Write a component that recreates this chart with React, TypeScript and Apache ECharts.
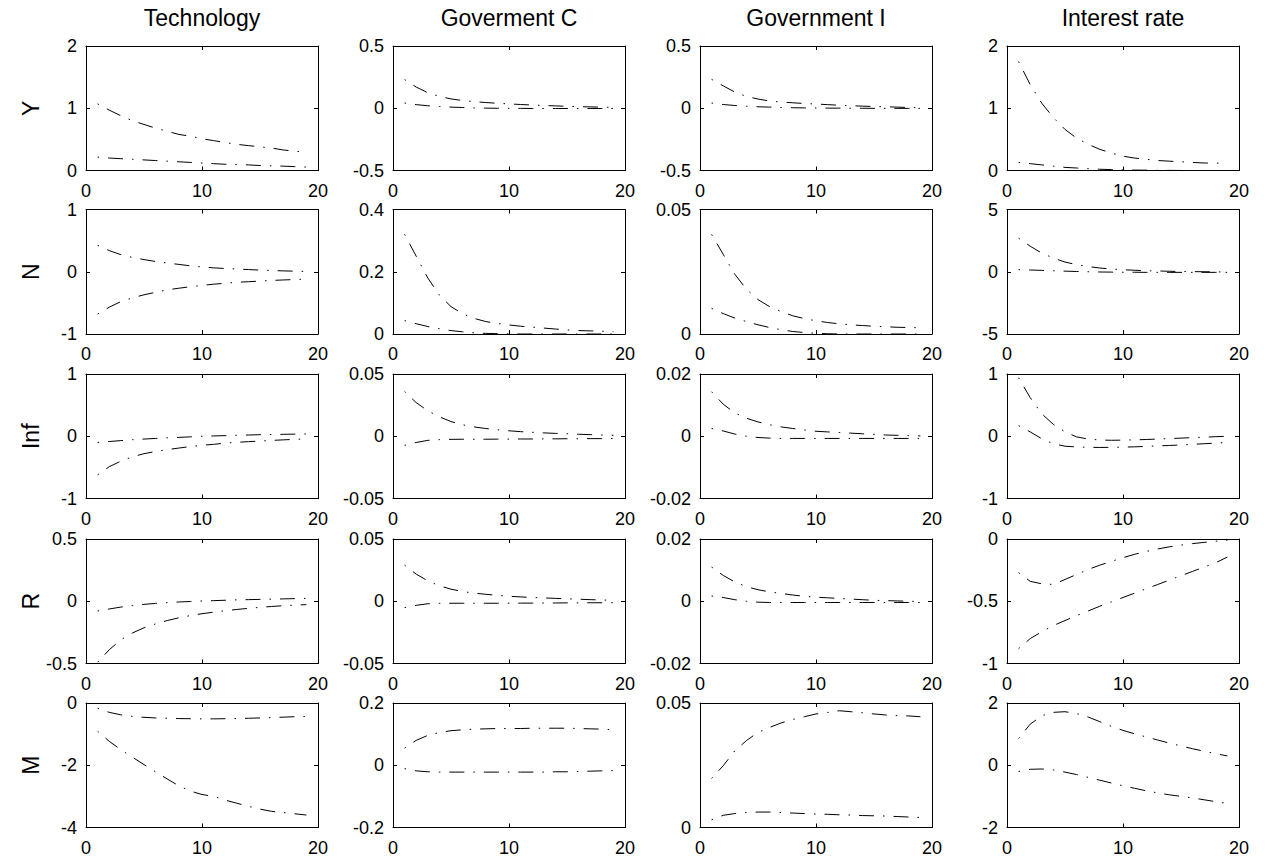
import { useEffect, useRef } from "react";
import * as echarts from "echarts";

// Impulse responses: rows are variables, columns are shocks.
const colTitles = ["Technology", "Goverment C", "Government I", "Interest rate"];
const rowNames = ["Y", "N", "Inf", "R", "M"];
const periods = [1, 2, 3, 4, 5, 6, 7, 8, 9, 10, 11, 12, 13, 14, 15, 16, 17, 18, 19];
const xTicks = [0, 10, 20];

// y-axis [min, max, interval] for each row (outer) and column (inner)
const yLimits = [
  [[0, 2, 1], [-0.5, 0.5, 0.5], [-0.5, 0.5, 0.5], [0, 2, 1]],
  [[-1, 1, 1], [0, 0.4, 0.2], [0, 0.05, 0.05], [-5, 5, 5]],
  [[-1, 1, 1], [-0.05, 0.05, 0.05], [-0.02, 0.02, 0.02], [-1, 1, 1]],
  [[-0.5, 0.5, 0.5], [-0.05, 0.05, 0.05], [-0.02, 0.02, 0.02], [-1, 0, 0.5]],
  [[-4, 0, 2], [-0.2, 0.2, 0.2], [0, 0.05, 0.05], [-2, 2, 2]],
];

// Output Y
const techY_a = [1.07, 0.97, 0.88, 0.8, 0.74, 0.68, 0.63, 0.58, 0.55, 0.51, 0.48, 0.45, 0.42, 0.4, 0.38, 0.36, 0.33, 0.31, 0.295];
const techY_b = [0.215, 0.2, 0.19, 0.18, 0.17, 0.16, 0.15, 0.14, 0.13, 0.12, 0.11, 0.1, 0.095, 0.09, 0.08, 0.075, 0.07, 0.062, 0.055];
const govcY_a = [0.23, 0.17, 0.125, 0.095, 0.075, 0.062, 0.053, 0.046, 0.04, 0.035, 0.03, 0.026, 0.022, 0.019, 0.016, 0.013, 0.011, 0.009, 0.007];
const govcY_b = [0.042, 0.029, 0.02, 0.014, 0.009, 0.006, 0.003, 0.001, 0, -0.001, -0.001, -0.002, -0.002, -0.002, -0.002, -0.002, -0.002, -0.002, -0.002];
const goviY_a = [0.232, 0.18, 0.13, 0.095, 0.074, 0.058, 0.05, 0.044, 0.038, 0.034, 0.029, 0.024, 0.02, 0.017, 0.014, 0.012, 0.009, 0.006, 0.004];
const goviY_b = [0.042, 0.03, 0.022, 0.016, 0.012, 0.009, 0.006, 0.004, 0.003, 0.002, 0.001, 0.001, 0, 0, -0.001, -0.001, -0.001, -0.001, -0.001];
const irY_a = [1.75, 1.38, 1.08, 0.85, 0.66, 0.52, 0.42, 0.34, 0.28, 0.23, 0.2, 0.18, 0.16, 0.15, 0.14, 0.13, 0.12, 0.12, 0.11];
const irY_b = [0.13, 0.11, 0.09, 0.07, 0.05, 0.04, 0.03, 0.02, 0.015, 0.01, 0.007, 0.005, 0.003, 0.002, 0.001, 0, 0, 0, 0];

// Hours N
const techN_a = [0.425, 0.34, 0.275, 0.23, 0.195, 0.165, 0.14, 0.118, 0.095, 0.077, 0.063, 0.052, 0.043, 0.035, 0.027, 0.02, 0.014, 0.009, 0.005];
const techN_b = [-0.68, -0.57, -0.48, -0.42, -0.37, -0.33, -0.29, -0.265, -0.24, -0.22, -0.2, -0.185, -0.17, -0.16, -0.15, -0.14, -0.132, -0.125, -0.118];
const govcN_a = [0.32, 0.25, 0.18, 0.125, 0.088, 0.065, 0.05, 0.04, 0.034, 0.029, 0.025, 0.022, 0.019, 0.016, 0.013, 0.011, 0.01, 0.009, 0.008];
const govcN_b = [0.043, 0.033, 0.024, 0.017, 0.011, 0.007, 0.004, 0.002, 0.001, 0.0005, 0, 0, 0, 0, 0, 0, 0, 0, 0];
const goviN_a = [0.04, 0.032, 0.024, 0.018, 0.0138, 0.011, 0.009, 0.0073, 0.0062, 0.0053, 0.0046, 0.0041, 0.0037, 0.0034, 0.0031, 0.0029, 0.0027, 0.0026, 0.0025];
const goviN_b = [0.0103, 0.0082, 0.0064, 0.005, 0.0037, 0.0026, 0.0017, 0.001, 0.0006, 0.0003, 0.0001, 0, 0, 0, 0, 0, 0, 0, 0];
const irN_a = [2.7, 2.05, 1.5, 1.1, 0.78, 0.57, 0.42, 0.3, 0.22, 0.16, 0.12, 0.08, 0.06, 0.04, 0.02, 0.01, 0, -0.01, -0.02];
const irN_b = [0.17, 0.14, 0.11, 0.08, 0.05, 0.02, 0, -0.02, -0.03, -0.04, -0.04, -0.05, -0.05, -0.05, -0.05, -0.05, -0.05, -0.05, -0.05];

// Inflation
const techInf_a = [-0.1, -0.085, -0.07, -0.055, -0.045, -0.035, -0.025, -0.018, -0.01, 0, 0.005, 0.01, 0.015, 0.02, 0.025, 0.028, 0.031, 0.034, 0.037];
const techInf_b = [-0.62, -0.49, -0.4, -0.33, -0.28, -0.245, -0.215, -0.19, -0.165, -0.145, -0.13, -0.11, -0.097, -0.087, -0.077, -0.067, -0.058, -0.05, -0.043];
const govcInf_a = [0.036, 0.027, 0.0205, 0.0156, 0.0118, 0.0092, 0.0075, 0.0062, 0.0052, 0.0044, 0.0037, 0.0032, 0.0027, 0.0023, 0.002, 0.0016, 0.0013, 0.001, 0.0008];
const govcInf_b = [-0.0073, -0.005, -0.0033, -0.0027, -0.0025, -0.0024, -0.0024, -0.0024, -0.0023, -0.0023, -0.0022, -0.0022, -0.0021, -0.0021, -0.002, -0.002, -0.0019, -0.0019, -0.0018];
const goviInf_a = [0.0143, 0.0103, 0.0075, 0.0058, 0.0046, 0.0037, 0.003, 0.0025, 0.002, 0.0016, 0.0014, 0.0012, 0.001, 0.0008, 0.0006, 0.0004, 0.0003, 0.0002, 0.0001];
const goviInf_b = [0.0025, 0.0017, 0.0007, 0, -0.0004, -0.0006, -0.0007, -0.0007, -0.0007, -0.0007, -0.0007, -0.0007, -0.0007, -0.0007, -0.0007, -0.0007, -0.0007, -0.0007, -0.0007];
const irInf_a = [0.94, 0.62, 0.36, 0.19, 0.07, -0.01, -0.045, -0.06, -0.065, -0.062, -0.058, -0.052, -0.045, -0.038, -0.03, -0.022, -0.015, -0.007, 0];
const irInf_b = [0.17, 0.07, -0.04, -0.12, -0.16, -0.172, -0.178, -0.18, -0.178, -0.175, -0.17, -0.163, -0.155, -0.148, -0.14, -0.13, -0.12, -0.11, -0.1];

// Nominal rate R
const techR_a = [-0.078, -0.062, -0.047, -0.035, -0.025, -0.017, -0.011, -0.006, -0.002, 0.002, 0.005, 0.008, 0.011, 0.013, 0.015, 0.017, 0.019, 0.021, 0.023];
const techR_b = [-0.49, -0.39, -0.31, -0.255, -0.213, -0.182, -0.155, -0.133, -0.115, -0.1, -0.088, -0.076, -0.066, -0.057, -0.049, -0.042, -0.036, -0.031, -0.027];
const govcR_a = [0.029, 0.0218, 0.0164, 0.0124, 0.0097, 0.0078, 0.0065, 0.0056, 0.0047, 0.004, 0.0035, 0.003, 0.0027, 0.0023, 0.002, 0.0016, 0.0013, 0.001, 0.0008];
const govcR_b = [-0.0051, -0.0033, -0.002, -0.0017, -0.0016, -0.0016, -0.0016, -0.0016, -0.0016, -0.0015, -0.0015, -0.0015, -0.0014, -0.0014, -0.0013, -0.0013, -0.0012, -0.0012, -0.0012];
const goviR_a = [0.011, 0.0083, 0.0062, 0.0047, 0.0037, 0.003, 0.0025, 0.002, 0.0016, 0.0013, 0.0011, 0.0009, 0.0007, 0.0005, 0.0003, 0.0002, 0.0001, 0, -0.0001];
const goviR_b = [0.0017, 0.0012, 0.0005, 0, -0.0003, -0.0004, -0.0004, -0.0004, -0.0004, -0.0004, -0.0004, -0.0004, -0.0004, -0.0004, -0.0004, -0.0004, -0.0004, -0.0004, -0.0004];
const irR_a = [-0.27, -0.34, -0.36, -0.365, -0.325, -0.285, -0.245, -0.21, -0.18, -0.15, -0.123, -0.1, -0.08, -0.063, -0.049, -0.037, -0.027, -0.018, -0.01];
const irR_b = [-0.88, -0.8, -0.745, -0.695, -0.655, -0.615, -0.578, -0.54, -0.505, -0.47, -0.435, -0.4, -0.365, -0.33, -0.295, -0.26, -0.225, -0.19, -0.145];

// Money M
const techM_a = [-0.17, -0.3, -0.38, -0.43, -0.46, -0.48, -0.49, -0.5, -0.505, -0.51, -0.51, -0.505, -0.5, -0.49, -0.48, -0.47, -0.455, -0.44, -0.43];
const techM_b = [-0.91, -1.23, -1.5, -1.74, -1.98, -2.21, -2.44, -2.66, -2.83, -2.94, -3.0, -3.12, -3.22, -3.32, -3.41, -3.48, -3.52, -3.56, -3.6];
const govcM_a = [0.055, 0.08, 0.096, 0.105, 0.111, 0.114, 0.116, 0.117, 0.118, 0.118, 0.118, 0.119, 0.119, 0.119, 0.119, 0.118, 0.117, 0.116, 0.114];
const govcM_b = [-0.011, -0.018, -0.021, -0.022, -0.022, -0.022, -0.022, -0.022, -0.022, -0.022, -0.022, -0.022, -0.022, -0.021, -0.021, -0.02, -0.019, -0.018, -0.017];
const goviM_a = [0.0197, 0.0248, 0.0308, 0.0349, 0.0382, 0.0402, 0.042, 0.0434, 0.0445, 0.0456, 0.0462, 0.0469, 0.0465, 0.0461, 0.0456, 0.0452, 0.0449, 0.0448, 0.0445];
const goviM_b = [0.0031, 0.0049, 0.0056, 0.006, 0.0062, 0.0062, 0.006, 0.0058, 0.0056, 0.0054, 0.0053, 0.0051, 0.005, 0.0048, 0.0047, 0.0046, 0.0044, 0.0042, 0.004];
const irM_a = [0.86, 1.32, 1.59, 1.7, 1.72, 1.66, 1.55, 1.4, 1.25, 1.12, 1.01, 0.91, 0.81, 0.71, 0.62, 0.53, 0.45, 0.37, 0.3];
const irM_b = [-0.2, -0.13, -0.12, -0.15, -0.22, -0.3, -0.39, -0.48, -0.57, -0.66, -0.74, -0.82, -0.89, -0.95, -1.0, -1.05, -1.11, -1.17, -1.23];

const responses = [
  [[techY_a, techY_b], [govcY_a, govcY_b], [goviY_a, goviY_b], [irY_a, irY_b]],
  [[techN_a, techN_b], [govcN_a, govcN_b], [goviN_a, goviN_b], [irN_a, irN_b]],
  [[techInf_a, techInf_b], [govcInf_a, govcInf_b], [goviInf_a, goviInf_b], [irInf_a, irInf_b]],
  [[techR_a, techR_b], [govcR_a, govcR_b], [goviR_a, goviR_b], [irR_a, irR_b]],
  [[techM_a, techM_b], [govcM_a, govcM_b], [goviM_a, goviM_b], [irM_a, irM_b]],
];

// Panel layout (pixels)
const colLeft = [86, 393, 700, 1007];
const rowTop = [46, 209.5, 374, 539, 703];
const plotW = 232;
const plotH = 124.5;
const FONT = "'Liberation Sans', Arial, Helvetica, sans-serif";

function buildOption() {
  const grid: any[] = [];
  const xAxis: any[] = [];
  const yAxis: any[] = [];
  const series: any[] = [];
  const graphic: any[] = [];
  const line = { color: "#000", width: 1 };
  const tick = { show: true, inside: true, length: 4, lineStyle: { color: "#000", width: 1 } };
  const label = { color: "#000", fontSize: 18, fontFamily: FONT };

  rowNames.forEach((rowName, r) => {
    colTitles.forEach((_, c) => {
      const g = grid.length;
      const [ymin, ymax, yint] = yLimits[r][c];
      grid.push({ left: colLeft[c], top: rowTop[r], width: plotW, height: plotH, containLabel: false });
      const xBase = {
        gridIndex: g, type: "value", min: xTicks[0], max: xTicks[2], interval: xTicks[1] - xTicks[0],
        axisLine: { show: true, onZero: false, lineStyle: line }, axisTick: tick, splitLine: { show: false },
      };
      xAxis.push({ ...xBase, position: "bottom", axisLabel: { ...label, margin: 11 } });
      xAxis.push({ ...xBase, position: "top", axisLabel: { show: false } });
      const yBase = {
        gridIndex: g, type: "value", min: ymin, max: ymax, interval: yint,
        axisLine: { show: true, onZero: false, lineStyle: line }, axisTick: tick, splitLine: { show: false },
      };
      yAxis.push({ ...yBase, position: "left", axisLabel: { ...label, margin: 9 } });
      yAxis.push({ ...yBase, position: "right", axisLabel: { show: false } });
      responses[r][c].forEach((vals) => {
        series.push({
          type: "line",
          xAxisIndex: 2 * g,
          yAxisIndex: 2 * g,
          data: periods.map((p, i) => [p, vals[i]]),
          symbol: "none",
          showSymbol: false,
          silent: true,
          clip: false,
          lineStyle: { color: "#000", width: 1, type: [1.5, 9, 15, 9] },
        });
      });
    });
    graphic.push({
      type: "text",
      x: 31,
      y: rowTop[r] + plotH / 2,
      rotation: Math.PI / 2,
      style: { text: rowName, fontSize: 23, fontFamily: FONT, fill: "#000", align: "center", verticalAlign: "middle" },
    });
  });

  colTitles.forEach((t, c) => {
    graphic.push({
      type: "text",
      x: colLeft[c] + plotW / 2,
      y: 18,
      style: { text: t, fontSize: 23, fontFamily: FONT, fill: "#000", align: "center", verticalAlign: "middle" },
    });
  });

  return { animation: false, backgroundColor: "#fff", grid, xAxis, yAxis, series, graphic };
}

export default function App() {
  const ref = useRef<HTMLDivElement>(null);
  useEffect(() => {
    if (!ref.current) return;
    const chart = echarts.init(ref.current, undefined, { renderer: "svg" });
    chart.setOption(buildOption());
    return () => chart.dispose();
  }, []);
  return (
    <div
      ref={ref}
      style={{ position: "absolute", left: 0, top: 0, width: 1279, height: 863, background: "#fff" }}
    />
  );
}
